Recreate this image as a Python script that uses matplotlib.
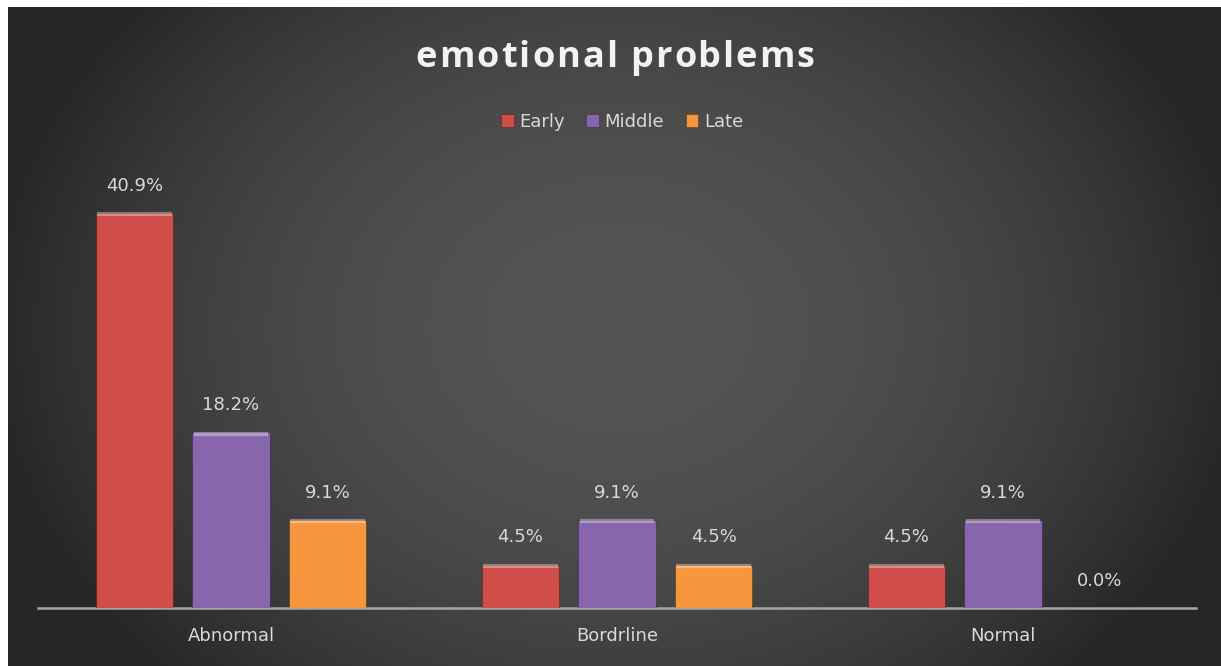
import matplotlib
matplotlib.use("Agg")
import matplotlib.pyplot as plt
import numpy as np

categories = ["Abnormal", "Bordrline", "Normal"]
series = ["Early", "Middle", "Late"]
early = [40.9, 4.5, 4.5]
middle = [18.2, 9.1, 9.1]
late = [9.1, 4.5, 0.0]
colors = ["#cf4e4a", "#8866ae", "#f7963f"]
title = "emotional problems"

W, H = 1221, 666
fig = plt.figure(figsize=(W / 100, H / 100), dpi=100, facecolor="white")

# dark radial background (white strip left/top like the screenshot)
bg = fig.add_axes([8 / W, 0, (W - 8) / W, (H - 7) / H])
yy, xx = np.mgrid[0:H - 7, 0:W - 8]
r2 = ((xx - 610) / 630.) ** 2 + ((yy - 320) / 500.) ** 2
g = np.clip(1 - r2, 0, 1)
img = 0.15 + 0.18 * g
bg.imshow(np.dstack([img, img, img]), aspect="auto", extent=[0, 1, 0, 1])
bg.set_axis_off()

ax = fig.add_axes([38 / W, (H - 608) / H, (1196 - 38) / W, (608 - 173) / H])
ax.set_facecolor("none")
ax.set_xlim(-0.5, 2.5)
ax.set_ylim(0, 45)

x = np.arange(len(categories))
w = 0.2
for i, (name, vals) in enumerate(zip(series, [early, middle, late])):
    pos = x + (i - 1) * 0.25
    bars = ax.bar(pos, vals, w, color=colors[i], label=name, zorder=3,
                  edgecolor="#00000040", linewidth=0.8)
    for b, v in zip(bars, vals):
        if v > 0:
            ax.plot([b.get_x() + 0.004, b.get_x() + w - 0.004], [v - 0.15, v - 0.15],
                    color="white", alpha=0.35, lw=3, zorder=4, solid_capstyle="butt")
        ax.annotate(f"{v:.1f}%", (b.get_x() + w / 2, v), xytext=(0, 13),
                    textcoords="offset points", ha="center", va="bottom",
                    color="#d9d9d9", fontsize=13)

for s in ["top", "right", "left"]:
    ax.spines[s].set_visible(False)
ax.spines["bottom"].set_color("#a6a6a6")
ax.spines["bottom"].set_linewidth(1.8)
ax.set_yticks([])
ax.set_xticks(x)
ax.set_xticklabels(categories, color="#d9d9d9", fontsize=13)
ax.tick_params(axis="x", length=0, pad=14)

# title with a little letter spacing: place each character separately
renderer = fig.canvas.get_renderer()
tkw = dict(color="#f2f2f2", fontsize=26, fontweight="bold", family="Open Sans",
           va="baseline", ha="left")
full = fig.text(0, 0, title, **tkw)
natural = full.get_window_extent(renderer).width
full.remove()
spacing = 2.0
total = natural + spacing * (len(title) - 1)
xpos = 615 - total / 2
start = 0
for i, ch in enumerate(title):
    fig.text((xpos + start + spacing * i) / W, 1 - 67 / H, ch, **tkw)
    pre = fig.text(0, 0, title[:i + 1], **tkw)
    start = pre.get_window_extent(renderer).width
    pre.remove()

leg = fig.legend(loc="center", bbox_to_anchor=(622 / W, 1 - 122 / H), ncol=3,
                 frameon=False, fontsize=13, handlelength=0.7, handleheight=0.7,
                 handletextpad=0.3, columnspacing=1.2)
for t in leg.get_texts():
    t.set_color("#d9d9d9")

fig.savefig("out.png", dpi=100, facecolor=fig.get_facecolor())
